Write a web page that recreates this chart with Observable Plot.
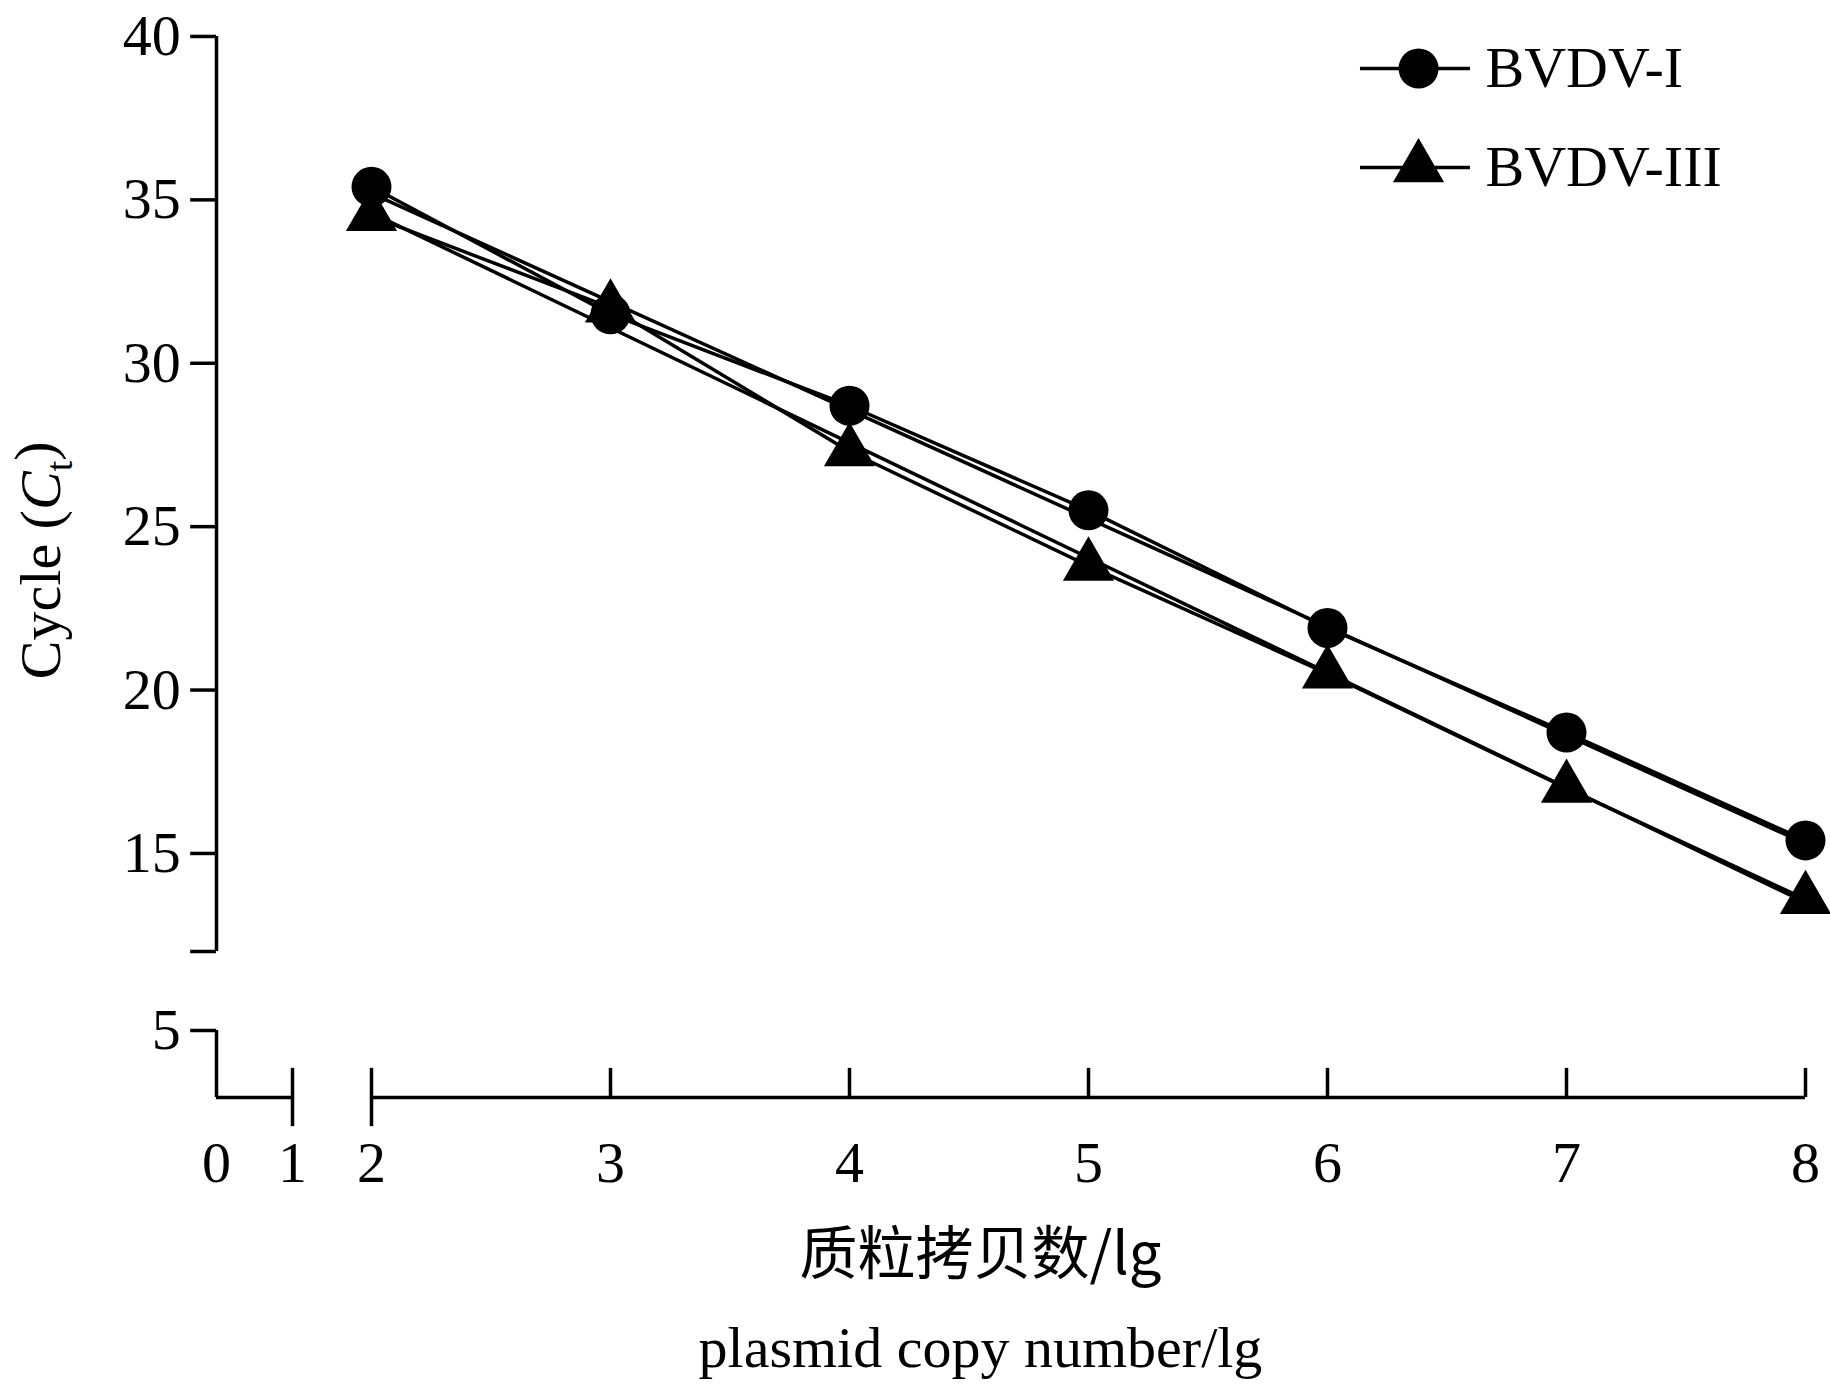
<!DOCTYPE html>
<html><head><meta charset="utf-8">
<script src="https://cdn.jsdelivr.net/npm/d3@7"></script>
<script src="https://cdn.jsdelivr.net/npm/@observablehq/plot@0.6"></script>
<style>body{margin:0;background:#fff}</style>
</head><body><div id="c"></div>
<script>
const xs = [2,3,4,5,6,7,8];
const bvdv1 = [35.4,31.5,28.7,25.5,21.9,18.7,15.4];
const bvdv3 = [34.5,31.7,27.3,23.8,20.5,17.0,13.6];
const fit1 = [[2,35.2],[8,15.3]];
const fit3 = [[2,34.6],[8,13.5]];
const yTicks = [5,15,20,25,30,35,40];
const xTicks = [0,1,2,3,4,5,6,7,8];
const font = "Liberation Serif, Times New Roman, serif";
const d1 = xs.map((x,i)=>({x,y:bvdv1[i]}));
const d3s = xs.map((x,i)=>({x,y:bvdv3[i]}));
const sw = 3.5;
// broken-axis transforms
const tx = v => v <= 1 ? 216 + 76*v : v <= 2 ? 292 + 79*(v-1) : 371 + 239*(v-2);
const ty = v => v <= 5 ? 1097 - 33.5*(v-3) : v <= 12 ? 1030 - (79/7)*(v-5) : 951 - 32.68*(v-12);
const chart = Plot.plot({
  width:1830, height:1389, margin:0,
  x:{type:"linear", transform:tx, domain:[0,1830], range:[0,1830], axis:null},
  y:{type:"linear", transform:ty, domain:[0,1389], range:[0,1389], axis:null},
  style:{fontFamily:font, background:"#fff"},
  marks:[
    Plot.ruleX([0],{y1:12,y2:40,strokeWidth:sw}),
    Plot.ruleX([0],{y1:3,y2:5,strokeWidth:sw}),
    Plot.ruleY([3],{x1:0,x2:1,strokeWidth:sw}),
    Plot.ruleY([3],{x1:2,x2:8,strokeWidth:sw}),
    Plot.ruleY([5,12,15,20,25,30,35,40],{x1:-0.34,x2:0,strokeWidth:sw}),
    Plot.ruleX([3,4,5,6,7,8],{y1:3,y2:3.87,strokeWidth:sw}),
    Plot.ruleX([1,2],{y1:2.13,y2:3.87,strokeWidth:sw}),
    Plot.text(yTicks,{x:-0.34,y:d=>d,text:d=>String(d),dx:-10,textAnchor:"end",fontSize:58}),
    Plot.text(xTicks,{x:d=>d,y:3,text:d=>String(d),dy:66,fontSize:58}),
    Plot.text(["质粒拷贝数/lg"],{x:4.548,y:-1.72,text:d=>d,fontSize:58,fontFamily:"Noto Sans CJK SC, "+font}),
    Plot.text(["plasmid copy number/lg"],{x:4.548,y:-4.49,text:d=>d,fontSize:58}),
    Plot.text(["CYTITLE"],{x:-2.3,y:23.97,text:d=>d,fontSize:58,rotate:-90}),
    Plot.line(fit1,{x:d=>d[0],y:d=>d[1],strokeWidth:sw}),
    Plot.line(fit3,{x:d=>d[0],y:d=>d[1],strokeWidth:sw}),
    Plot.line(d1,{x:"x",y:"y",strokeWidth:sw}),
    Plot.line(d3s,{x:"x",y:"y",strokeWidth:sw}),
    Plot.dot(d1,{x:"x",y:"y",r:20,fill:"#000"}),
    Plot.dot(d3s,{x:"x",y:"y",r:19,symbol:"triangle",fill:"#000"}),
    Plot.ruleY([39.02,35.99],{x1:6.138,x2:6.598,strokeWidth:sw}),
    Plot.dot([39.02],{x:6.381,y:d=>d,r:20,fill:"#000"}),
    Plot.dot([35.99],{x:6.381,y:d=>d,r:19,symbol:"triangle",fill:"#000"}),
    Plot.text([["BVDV-I",39.02],["BVDV-III",35.99]],{x:6.661,y:d=>d[1],text:d=>d[0],textAnchor:"start",fontSize:58})
  ]
});
document.getElementById("c").appendChild(chart);
d3.select(chart).selectAll("text").filter(function(){return this.textContent==="CYTITLE";}).each(function(){
  const t=d3.select(this); t.text("");
  t.append("tspan").text("Cycle (");
  t.append("tspan").attr("font-style","italic").text("C");
  t.append("tspan").attr("font-size",38).attr("dy","0.3em").text("t");
  t.append("tspan").attr("dy","-0.3em").text(")");
});
</script></body></html>
